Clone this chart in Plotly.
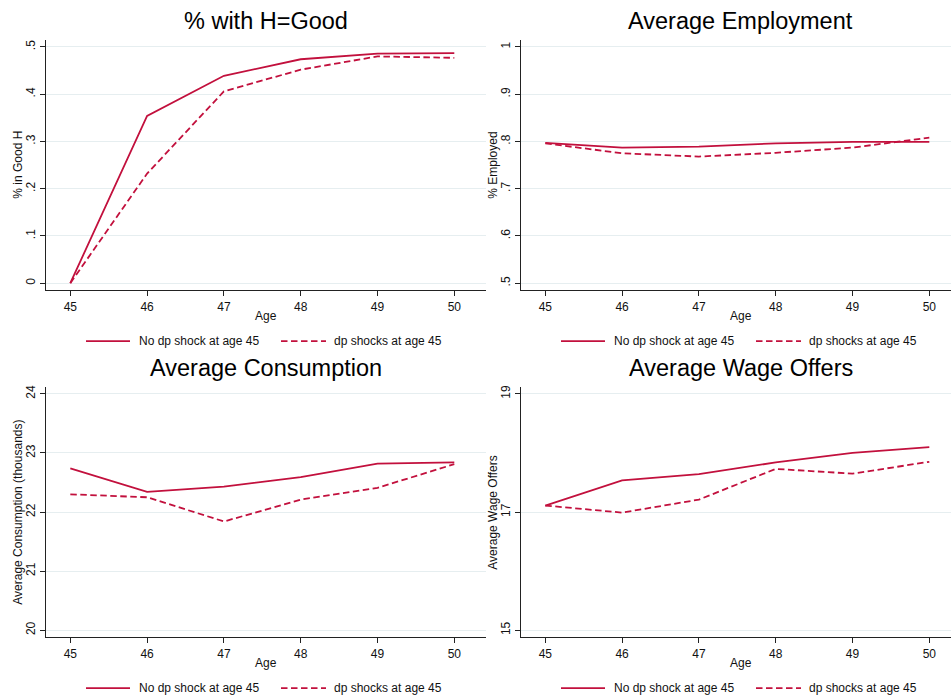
import plotly.graph_objects as go

W, H = 951, 698

ages = [45, 46, 47, 48, 49, 50]
age_ticks = [45, 46, 47, 48, 49, 50]

good_h_no_shock = [0.0, 0.354, 0.439, 0.474, 0.486, 0.487]
good_h_shock = [0.0, 0.232, 0.406, 0.452, 0.480, 0.477]
good_h_ticks = [0, 0.1, 0.2, 0.3, 0.4, 0.5]
good_h_ticktext = ["0", ".1", ".2", ".3", ".4", ".5"]

emp_no_shock = [0.797, 0.787, 0.789, 0.796, 0.799, 0.799]
emp_shock = [0.796, 0.775, 0.768, 0.776, 0.787, 0.808]
emp_ticks = [0.5, 0.6, 0.7, 0.8, 0.9, 1.0]
emp_ticktext = [".5", ".6", ".7", ".8", ".9", "1"]

cons_no_shock = [22.74, 22.34, 22.43, 22.59, 22.82, 22.84]
cons_shock = [22.30, 22.25, 21.84, 22.21, 22.41, 22.81]
cons_ticks = [20, 21, 22, 23, 24]
cons_ticktext = ["20", "21", "22", "23", "24"]

wage_no_shock = [17.11, 17.535, 17.64, 17.84, 18.00, 18.10]
wage_shock = [17.11, 16.99, 17.21, 17.73, 17.65, 17.85]
wage_ticks = [15, 17, 19]
wage_ticktext = ["15", "17", "19"]

series_names = ["No dp shock at age 45", "dp shocks at age 45"]

LINE = "#c2103d"
GRID = "#e6eef0"
AXIS = "#222222"
FONT = "Liberation Sans, Arial, sans-serif"
DASH = "6.5px,3.5px"
LW = 1.8

def px_x(p):
    return p / W

def px_y(p):
    return 1 - p / H

panels = [
    dict(title="% with H=Good", ytitle="% in Good H", no=good_h_no_shock, sh=good_h_shock,
         ticks=good_h_ticks, ticktext=good_h_ticktext, yr=[-0.0148, 0.515],
         left=45.7, right=486, top=38, bottom=289, x45=70.3),
    dict(title="Average Employment", ytitle="% Employed", no=emp_no_shock, sh=emp_shock,
         ticks=emp_ticks, ticktext=emp_ticktext, yr=[0.4852, 1.015],
         left=520.7, right=951, top=38, bottom=289, x45=545.3),
    dict(title="Average Consumption", ytitle="Average Consumption (thousands)", no=cons_no_shock, sh=cons_shock,
         ticks=cons_ticks, ticktext=cons_ticktext, yr=[19.882, 24.118],
         left=45.7, right=486, top=386, bottom=637, x45=70.3),
    dict(title="Average Wage Offers", ytitle="Average Wage Offers", no=wage_no_shock, sh=wage_shock,
         ticks=wage_ticks, ticktext=wage_ticktext, yr=[14.882, 19.118],
         left=520.7, right=951, top=386, bottom=637, x45=545.3),
]

PXU = 76.8  # pixels per year

fig = go.Figure()
layout = dict(
    width=W, height=H, margin=dict(l=0, r=0, t=0, b=0),
    paper_bgcolor="white", plot_bgcolor="white", showlegend=False,
    font=dict(family=FONT, size=12, color="#111111"),
)
annotations = []
shapes = []

for i, p in enumerate(panels):
    n = "" if i == 0 else str(i + 1)
    xa = "x" + n
    ya = "y" + n
    fig.add_trace(go.Scatter(x=ages, y=p["no"], mode="lines", name=series_names[0],
                             line=dict(color=LINE, width=LW), xaxis=xa, yaxis=ya))
    fig.add_trace(go.Scatter(x=ages, y=p["sh"], mode="lines", name=series_names[1],
                             line=dict(color=LINE, width=LW, dash=DASH), xaxis=xa, yaxis=ya))
    xr0 = 45 - (p["x45"] - p["left"]) / PXU
    xr1 = 45 + (p["right"] - p["x45"]) / PXU
    layout["xaxis" + n] = dict(
        domain=[px_x(p["left"]), px_x(p["right"])], anchor=ya, range=[xr0, xr1],
        tickvals=age_ticks, ticktext=[str(a) for a in age_ticks],
        showline=True, linecolor=AXIS, linewidth=1.3, ticks="outside", ticklen=5,
        tickcolor=AXIS, tickwidth=1.2, showgrid=False, zeroline=False,
        tickfont=dict(size=12, family=FONT, color="#111111"), fixedrange=True,
    )
    layout["yaxis" + n] = dict(
        domain=[px_y(p["bottom"]), px_y(p["top"])], anchor=xa, range=p["yr"],
        tickvals=p["ticks"], ticktext=p["ticktext"], tickangle=-90,
        showline=True, linecolor=AXIS, linewidth=1.3, ticks="outside", ticklen=5,
        tickcolor=AXIS, tickwidth=1.2, showgrid=True, gridcolor=GRID, gridwidth=1,
        zeroline=False, tickfont=dict(size=12, family=FONT, color="#111111"), fixedrange=True,
    )
    center_x = p["left"] + 220
    annotations.append(dict(text=p["title"], x=px_x(center_x), y=px_y(p["top"] - 19),
                            xref="paper", yref="paper", showarrow=False,
                            xanchor="center", yanchor="middle",
                            font=dict(size=23.5, family=FONT, color="#000000")))
    annotations.append(dict(text="Age", x=px_x(center_x), y=px_y(p["bottom"] + 26),
                            xref="paper", yref="paper", showarrow=False,
                            xanchor="center", yanchor="middle",
                            font=dict(size=12, family=FONT, color="#111111")))
    annotations.append(dict(text=p["ytitle"], x=px_x(p["left"] - 28), y=px_y((p["top"] + p["bottom"]) / 2),
                            xref="paper", yref="paper", showarrow=False, textangle=-90,
                            xanchor="center", yanchor="middle",
                            font=dict(size=12, family=FONT, color="#111111")))
    off = p["left"] - 45.7
    ly = p["bottom"] + 51
    shapes.append(dict(type="line", xref="paper", yref="paper",
                       x0=px_x(86 + off), x1=px_x(130 + off), y0=px_y(ly), y1=px_y(ly),
                       line=dict(color=LINE, width=LW)))
    shapes.append(dict(type="line", xref="paper", yref="paper",
                       x0=px_x(281 + off), x1=px_x(326 + off), y0=px_y(ly), y1=px_y(ly),
                       line=dict(color=LINE, width=LW, dash=DASH)))
    annotations.append(dict(text=series_names[0], x=px_x(137 + off), y=px_y(ly),
                            xref="paper", yref="paper", showarrow=False,
                            xanchor="left", yanchor="middle",
                            font=dict(size=12, family=FONT, color="#111111")))
    annotations.append(dict(text=series_names[1], x=px_x(332 + off), y=px_y(ly),
                            xref="paper", yref="paper", showarrow=False,
                            xanchor="left", yanchor="middle",
                            font=dict(size=12, family=FONT, color="#111111")))

layout["annotations"] = annotations
layout["shapes"] = shapes
fig.update_layout(**layout)
fig.write_html(
    "out.html",
    config={"displayModeBar": False},
    post_script="document.body.style.margin='0';document.body.style.overflow='hidden';",
)
